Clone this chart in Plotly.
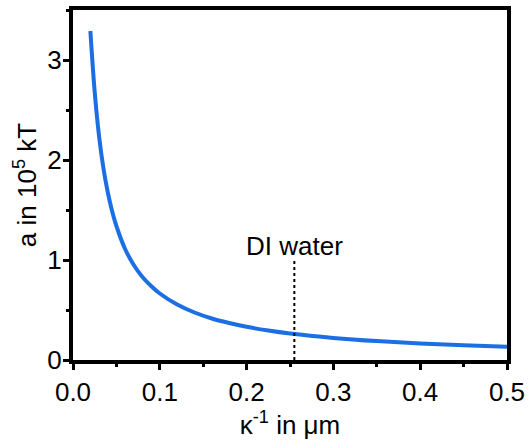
import plotly.graph_objects as go

kappa_inv = [0.02, 0.025, 0.03, 0.035, 0.04, 0.045, 0.05, 0.06, 0.07, 0.08, 0.09, 0.1,
             0.12, 0.14, 0.16, 0.18, 0.2, 0.225, 0.25, 0.3, 0.35, 0.4, 0.45, 0.5]
a_vals = [3.29, 2.68, 2.24, 1.92, 1.68, 1.49, 1.34, 1.11, 0.95, 0.83, 0.74, 0.665,
          0.555, 0.475, 0.415, 0.37, 0.332, 0.295, 0.265, 0.221, 0.189, 0.165, 0.147, 0.132]

di_x = [0.255, 0.255]
di_y = [0.0, 1.0]
di_label = "DI water"

FONT = "Liberation Sans, Arial, sans-serif"
FS = 26

fig = go.Figure()
fig.add_trace(go.Scatter(x=kappa_inv, y=a_vals, mode="lines",
                         line=dict(color="#1c6fe3", width=4, shape="spline", smoothing=1.0),
                         showlegend=False))
fig.add_trace(go.Scatter(x=di_x, y=di_y, mode="lines",
                         line=dict(color="black", width=2, dash="dot"),
                         showlegend=False))
fig.add_annotation(x=di_x[0], y=1.14, text=di_label, showarrow=False,
                   font=dict(family=FONT, size=FS, color="black"),
                   xanchor="center", yanchor="middle")

axis_common = dict(showline=True, linecolor="black", linewidth=4, mirror=True,
                   ticks="outside", ticklen=6, tickwidth=3, tickcolor="black",
                   showgrid=False, zeroline=False,
                   tickfont=dict(family=FONT, size=FS, color="black"))

fig.update_xaxes(range=[0, 0.5], dtick=0.1, tick0=0, tickformat=".1f",
                 minor=dict(ticks="outside", ticklen=3, tickwidth=3, tickcolor="black", dtick=0.05, showgrid=False),
                 title=dict(text="κ<sup>-1</sup> in μm", font=dict(family=FONT, size=FS, color="black"), standoff=5),
                 **axis_common)
fig.update_yaxes(range=[0, 3.5], dtick=1, tick0=0, ticklabelstandoff=-4,
                 minor=dict(ticks="outside", ticklen=3, tickwidth=3, tickcolor="black", dtick=0.5, showgrid=False),
                 title=dict(text="a in 10<sup>5</sup> kT", font=dict(family=FONT, size=FS, color="black"), standoff=4),
                 **axis_common)

fig.update_layout(width=531, height=441, margin=dict(l=73, r=19, t=6, b=81),
                  plot_bgcolor="white", paper_bgcolor="white",
                  font=dict(family=FONT, size=FS, color="black"))

fig.write_html("out.html")
